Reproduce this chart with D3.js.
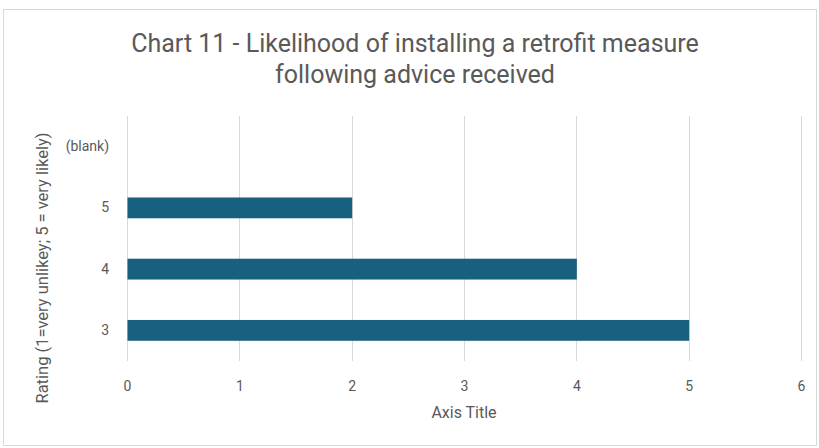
<!DOCTYPE html>
<html>
<head>
<meta charset="utf-8">
<script src="https://cdn.jsdelivr.net/npm/d3@7"></script>
<style>
  body { margin: 0; background: #fff; }
  text { font-family: "Roboto", "Noto Sans", sans-serif; fill: #595959; }
</style>
</head>
<body>
<div id="chart"></div>
<script>
const categories = ['(blank)', '5', '4', '3'];
const values = [null, 2, 4, 5];
const xTicks = [0, 1, 2, 3, 4, 5, 6];
const titleLines = ['Chart 11 - Likelihood of installing a retrofit measure', 'following advice received'];
const xAxisLabel = 'Axis Title';
const yAxisLabel = 'Rating (1=very unlikey; 5 = very likely)';

const width = 819, height = 448;
const margin = {top: 116, right: 18, bottom: 87, left: 127};
const graphWidth = 801 - margin.left;
const graphHeight = height - margin.top - margin.bottom;

const svg = d3.select('#chart').append('svg')
    .attr('width', width)
    .attr('height', height);

// chart border
svg.append('rect')
    .attr('x', 3.5).attr('y', 9.5)
    .attr('width', 813).attr('height', 436)
    .attr('fill', '#fff')
    .attr('stroke', '#d9d9d9');

const g = svg.append('g')
    .attr('transform', 'translate(' + margin.left + ',' + margin.top + ')');

const x = d3.scaleLinear().domain([0, 6]).range([0, graphWidth]);
const y = d3.scaleBand().domain(categories).range([0, graphHeight]).paddingInner(0.66).paddingOuter(0.33);

// gridlines
g.selectAll('.grid')
    .data(xTicks)
    .enter().append('line')
    .attr('x1', d => Math.round(x(d)) + 0.5)
    .attr('x2', d => Math.round(x(d)) + 0.5)
    .attr('y1', 0)
    .attr('y2', graphHeight)
    .attr('stroke', '#d9d9d9')
    .attr('stroke-width', 1);

// bars
g.selectAll('.bar')
    .data(categories.map((c, i) => ({cat: c, val: values[i]})).filter(d => d.val != null))
    .enter().append('rect')
    .attr('x', x(0) + 0.5)
    .attr('y', d => y(d.cat))
    .attr('width', d => x(d.val) - x(0))
    .attr('height', y.bandwidth())
    .attr('fill', '#18607f');

// x axis
const xAxis = g.append('g')
    .attr('transform', 'translate(0,' + (graphHeight + 20) + ')')
    .call(d3.axisBottom(x).tickValues(xTicks).tickFormat(d3.format('d')).tickSize(0).tickPadding(0));
xAxis.select('.domain').remove();
xAxis.selectAll('text').style('font-size', '14px').attr('fill', '#595959');

// y axis
const yAxis = g.append('g')
    .call(d3.axisLeft(y).tickSize(0).tickPadding(18));
yAxis.select('.domain').remove();
yAxis.selectAll('text').style('font-size', '14px').attr('fill', '#595959');

// title
svg.append('text')
    .attr('text-anchor', 'middle')
    .attr('x', 415)
    .style('font-size', '25px')
    .selectAll('tspan')
    .data(titleLines)
    .enter().append('tspan')
    .attr('x', 415)
    .attr('y', (d, i) => 52 + i * 31)
    .text(d => d);

// axis titles
svg.append('text')
    .attr('text-anchor', 'middle')
    .attr('x', 464)
    .attr('y', 418)
    .style('font-size', '16px')
    .text(xAxisLabel);

svg.append('text')
    .attr('text-anchor', 'middle')
    .attr('transform', 'translate(48,268) rotate(-90)')
    .style('font-size', '16.5px')
    .text(yAxisLabel);
</script>
</body>
</html>
